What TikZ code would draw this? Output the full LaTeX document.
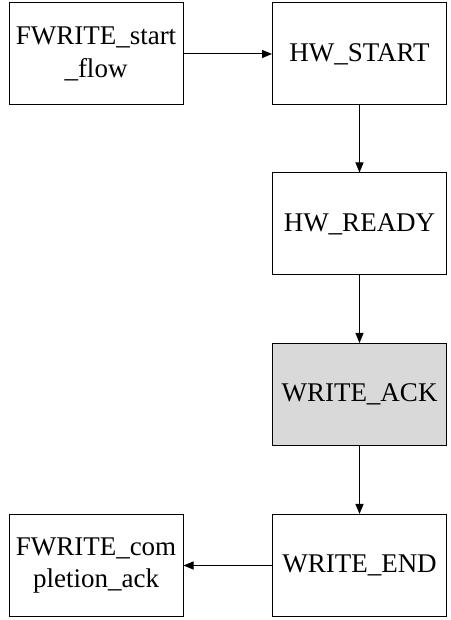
\documentclass[tikz,border=0pt]{standalone}
\usepackage{fontspec}
\setmainfont{Liberation Serif}
\usetikzlibrary{arrows.meta}
\begin{document}
\begin{tikzpicture}[x=1pt,y=1pt,
  state/.style={draw=black, line width=1pt, minimum width=174pt, minimum height=102pt,
    inner sep=0pt, align=center, font=\fontsize{27}{32.5}\selectfont},
  flow/.style={draw=black, line width=1pt, -{Triangle[length=10pt,width=8pt]}}]
\useasboundingbox (0,0) rectangle (450,620);
\node[state] (fs) at (96,566) {FWRITE\_start\\\_flow};
\node[state] (hs) at (359.5,566) {HW\_START};
\node[state] (hr) at (359.5,396) {HW\_READY};
\node[state, fill={rgb,255:red,217;green,217;blue,217}] (wa) at (359.5,225.5) {WRITE\_ACK};
\node[state] (we) at (359.5,54.5) {WRITE\_END};
\node[state] (fc) at (96,54.5) {FWRITE\_com\\pletion\_ack};
\draw[flow] (fs) -- (hs);
\draw[flow] (hs) -- (hr);
\draw[flow] (hr) -- (wa);
\draw[flow] (wa) -- (we);
\draw[flow] (we) -- (fc);
\end{tikzpicture}
\end{document}
